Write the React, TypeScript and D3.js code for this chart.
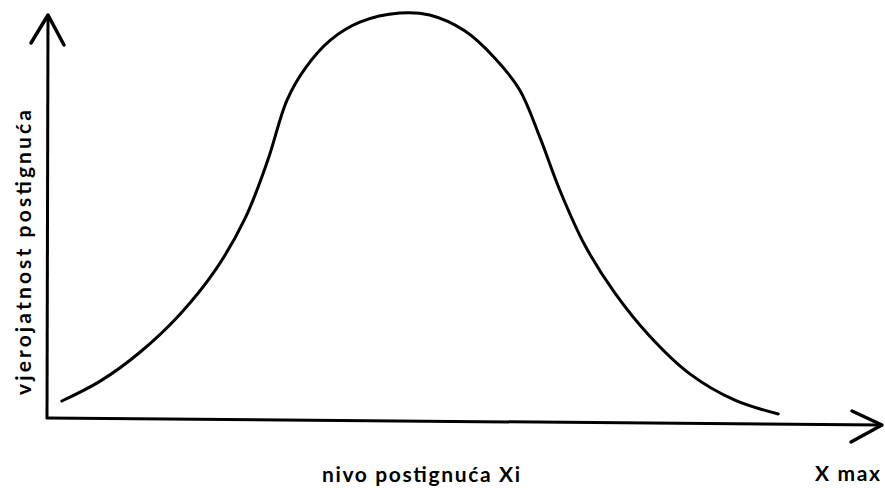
import * as d3 from "d3";

// achievement level (0..100) and probability (0..100)
const levels = [1.9, 6.5, 11.3, 16.1, 20.3, 23.9, 26.6, 28.9, 31.1, 34.1, 37.7, 42.4, 46.0, 50.2, 53.8, 56.8, 59.2, 61.6, 64.6, 68.2, 72.4, 77.2, 82.6, 87.8];
const probability = [4.2, 9.1, 16.3, 25.7, 36.5, 49.4, 63.7, 78.5, 86.4, 93.3, 97.8, 100, 99.5, 95.6, 88.9, 81.0, 69.4, 56.3, 42.7, 30.9, 20.2, 10.9, 4.4, 1.0];

const yLabel = "vjerojatnost postignuća";
const xLabel = "nivo postignuća Xi";
const xMaxLabel = "X max";

const width = 885;
const height = 488;

export default function App() {
  const x = d3.scaleLinear().domain([0, 100]).range([46, 880]);
  const y = d3.scaleLinear().domain([0, 100]).range([418, 13]);

  const points = levels.map((l, i) => [l, probability[i]] as [number, number]);
  const line = d3
    .line<[number, number]>()
    .x((d) => x(d[0]))
    .y((d) => y(d[1]))
    .curve(d3.curveCatmullRom.alpha(0.5));

  const font = "Lato, 'DejaVu Sans', sans-serif";

  return (
    <svg
      width={width}
      height={height}
      style={{ position: "absolute", left: 0, top: 0, background: "#fff" }}
    >
      {/* y axis with arrow */}
      <line x1={47} y1={419} x2={48} y2={16} stroke="#000" strokeWidth={3} />
      <path d="M31,43 L48,15 L64,45" fill="none" stroke="#000" strokeWidth={3.5} strokeLinecap="round" strokeLinejoin="round" />
      {/* x axis with arrow */}
      <line x1={46} y1={418} x2={881} y2={425} stroke="#000" strokeWidth={3} />
      <path d="M852,411 L882,425 L851,442" fill="none" stroke="#000" strokeWidth={3.5} strokeLinecap="round" strokeLinejoin="round" />

      <path d={line(points) ?? ""} fill="none" stroke="#000" strokeWidth={3} strokeLinecap="round" />

      <text
        transform="translate(31,395) rotate(-90)"
        fontFamily={font}
        fontSize={21}
        fontWeight={700}
        textLength={285}
        lengthAdjust="spacing"
      >
        {yLabel}
      </text>
      <text x={322} y={482} fontFamily={font} fontSize={21} fontWeight={700} textLength={198} lengthAdjust="spacing">
        {xLabel}
      </text>
      <text x={815} y={481} fontFamily={font} fontSize={21} fontWeight={700} textLength={65} lengthAdjust="spacing">
        {xMaxLabel}
      </text>
    </svg>
  );
}
